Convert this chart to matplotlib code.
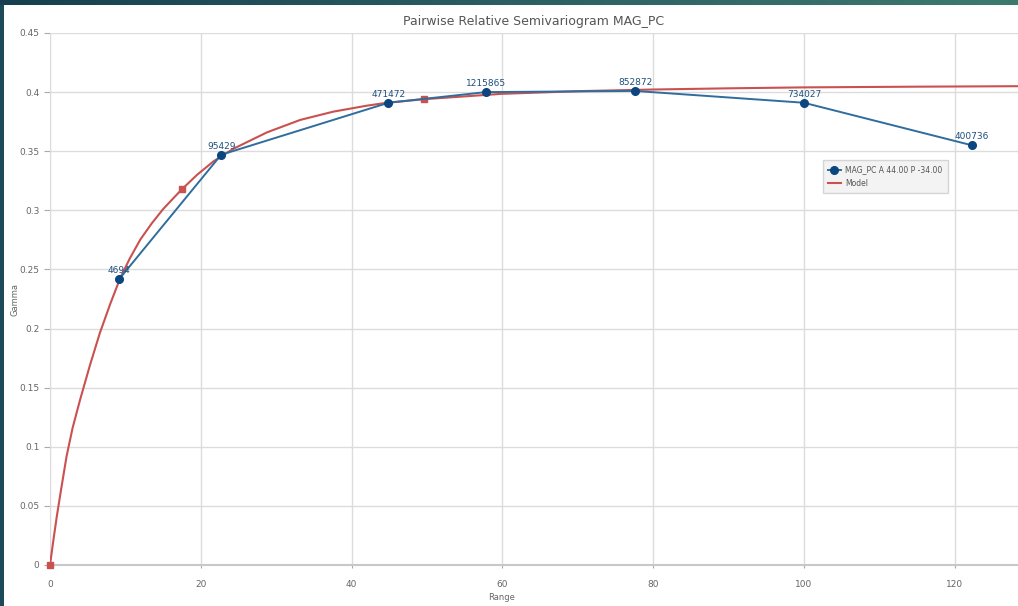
import numpy as np
from matplotlib import pyplot as plt, patches
from matplotlib.colors import LinearSegmentedColormap

# experimental semivariogram points
lag_range = [9.2, 22.7, 44.9, 57.8, 77.6, 100.0, 122.3]
lag_gamma = [0.242, 0.347, 0.391, 0.400, 0.401, 0.391, 0.355]
lag_pairs = ["4694", "95429", "471472", "1215865", "852872", "734027", "400736"]

# fitted model curve
model_range = [0.0, 0.45, 0.9, 1.5, 2.2, 3.0, 4.0, 5.3, 6.6, 8.0, 9.3, 10.6, 12.0, 13.5,
               15.0, 16.4, 17.5, 19.5, 21.7, 24.3, 28.8, 33.2, 37.6, 42.0, 44.7, 49.6,
               59.8, 70.0, 80.0, 90.0, 100.0, 115.0, 128.4]
model_gamma = [0.0, 0.021, 0.041, 0.065, 0.092, 0.116, 0.140, 0.169, 0.196, 0.221, 0.2425,
               0.2595, 0.2755, 0.289, 0.301, 0.3105, 0.3178, 0.330, 0.3415, 0.352, 0.366,
               0.3765, 0.3835, 0.3885, 0.391, 0.394, 0.3985, 0.4008, 0.4022, 0.4032, 0.404,
               0.4046, 0.405]
model_marks_range = [0.0, 17.5, 49.6]
model_marks_gamma = [0.0, 0.318, 0.394]

W, H = 1018, 606
fig = plt.figure(figsize=(W / 100, H / 100), dpi=100)
fig.patch.set_facecolor("#1c4a58")

# white panel inside the dark frame
fig.patches.append(patches.Rectangle((4 / W, 0), 1, (H - 5) / H, transform=fig.transFigure,
                                     facecolor="white", edgecolor="none", zorder=-10))
# top gradient strip
grad = np.linspace(0, 1, 256).reshape(1, -1)
gax = fig.add_axes([0, (H - 5) / H, 1, 5 / H])
gax.imshow(grad, aspect="auto", cmap=LinearSegmentedColormap.from_list(
    "strip", ["#173f4f", "#2b5f63", "#3d7a6e"]))
gax.set_axis_off()

ax = fig.add_axes([50 / W, (H - 565) / H, (W - 50) / W, (565 - 33) / H])
ax.set_zorder(5)
ax.set_facecolor("none")

blue_line = "#2f6d9e"
blue_mark = "#0b4680"
red = "#c9514f"

model_line, = ax.plot(model_range, model_gamma, color=red, lw=1.5, zorder=3, label="Model",
                      solid_joinstyle="round")
ax.plot(model_marks_range, model_marks_gamma, "s", color=red, ms=5, zorder=4, clip_on=False)
lag_line, = ax.plot(lag_range, lag_gamma, color=blue_line, lw=1.4, marker="o", ms=5.5,
                    mfc=blue_mark, mec=blue_mark, zorder=5, label="MAG_PC A 44.00 P -34.00")

for x, y, t in zip(lag_range, lag_gamma, lag_pairs):
    ax.annotate(t, (x, y), xytext=(0, 3), textcoords="offset points", ha="center", va="bottom",
                fontsize=6.5, color="#1f4f7e", zorder=6)

ax.set_xlim(0, 128.4)
ax.set_ylim(0, 0.45)
ax.set_xticks(range(0, 121, 20))
ax.set_yticks(np.arange(0, 0.451, 0.05))
ax.set_yticklabels(["0", "0.05", "0.1", "0.15", "0.2", "0.25", "0.3", "0.35", "0.4", "0.45"])
ax.grid(True, color="#dcdcdc", lw=1)
ax.set_axisbelow(True)
for s in ["top", "right"]:
    ax.spines[s].set_visible(False)
ax.spines["left"].set_color("#dcdcdc")
ax.spines["bottom"].set_color("#c8c8c8")
ax.spines["bottom"].set_linewidth(1.5)
ax.tick_params(axis="both", labelsize=6.5, labelcolor="#666666", color="#aaaaaa", length=4, width=0.8)
ax.tick_params(axis="x", pad=9, length=2)

ax.set_xlabel("Range", fontsize=6, color="#666666", va="center")
ax.xaxis.set_label_coords((502 - 50) / (W - 50), -(598 - 565) / (565 - 33))
ax.set_ylabel("Gamma", fontsize=6, color="#666666")
ax.yaxis.set_label_coords(-(50 - 20) / (W - 50), (565 - 300) / (565 - 33))
ax.set_title("Pairwise Relative Semivariogram MAG_PC", fontsize=9, color="#555555", pad=6)

leg = ax.legend(handles=[lag_line, model_line], loc="upper left",
                bbox_to_anchor=((823 - 50) / (W - 50), (565 - 160) / (565 - 33)),
                borderaxespad=0, fontsize=5.5, frameon=True, fancybox=False, handlelength=1.6,
                labelcolor="#555555", borderpad=0.7, labelspacing=0.6, handletextpad=0.6)
leg.get_frame().set_facecolor("#f1f1f1")
leg.get_frame().set_edgecolor("#cccccc")

fig.savefig("out.png", dpi=100)
